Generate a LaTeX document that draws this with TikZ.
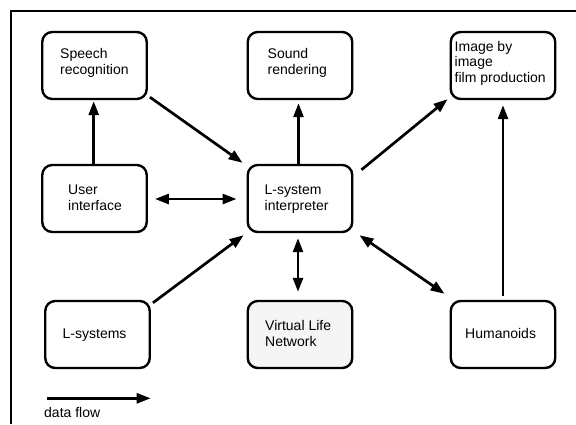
\documentclass[tikz,border=0pt]{standalone}
\usepackage{fontspec}
\setmainfont{Liberation Sans}
\usetikzlibrary{arrows.meta}
\begin{document}
\begin{tikzpicture}[x=1pt,y=-1pt,
  box/.style={draw, line width=2.4pt, rounded corners=10pt, minimum width=104.5pt, minimum height=67pt, inner sep=0pt},
  lbl/.style={anchor=base west, align=left, font=\fontsize{14}{16}\selectfont, inner sep=0pt},
  flow/.style={line width=2.7pt, -{Triangle[length=14pt,width=10pt]}},
  both/.style={line width=2.7pt, {Triangle[length=14pt,width=10pt]}-{Triangle[length=14pt,width=10pt]}}]
\useasboundingbox (0,0) rectangle (576,424);
\draw[line width=2pt] (10.5,424) -- (10.5,10.5) -- (576,10.5);

\node[box] (speech) at (94.5,65.5) {};
\node[box] (sound)  at (300,65.5) {};
\node[box] (image)  at (503,65.5) {};
\node[box] (user)   at (94.5,198.5) {};
\node[box] (interp) at (300,198.5) {};
\node[box] (lsys)   at (97.5,334.5) {};
\node[box, fill={rgb,255:red,245;green,245;blue,245}] (vln) at (300,334.5) {};
\node[box] (hum)    at (503,334.5) {};

% base anchor of a multi-line label is the baseline of its last line
\node[lbl] (tspeech) at (60,74) {Speech\\recognition};
\node[lbl] (tsound) at (267.5,74) {Sound\\rendering};
\node[lbl, font=\fontsize{14}{15.5}\selectfont] (timage) at (454.5,82) {Image by\\image\\film production};
\node[lbl] (tuser) at (68,210.5) {User\\interface};
\node[lbl] (tinterp) at (264.5,210.5) {L-system\\interpreter};
\node[lbl] (tlsys) at (62.5,338) {L-systems};
\node[lbl] (tvln) at (265,346) {Virtual Life\\Network};
\node[lbl] (thum) at (465,338) {Humanoids};
\node[lbl] (tdf) at (44,417) {data flow};

\draw[flow] ([shift={(2,-3)}]speech.south east) -- ([shift={(-4,-1)}]interp.north west);
\draw[flow] ([shift={(-0.8,0)}]user.north) -- ([shift={(-0.8,1)}]speech.south);
\draw[flow] ([shift={(-1.5,0)}]interp.north) -- ([shift={(-1.5,3)}]sound.south);
\draw[flow] ([shift={(8,6)}]interp.north east) -- ([shift={(-2,-1)}]image.south west);
\draw[both] ([shift={(7,0.5)}]user.east) -- ([shift={(-10,0.5)}]interp.west);
\draw[flow] ([shift={(2,3)}]lsys.north east) -- ([shift={(-3,2)}]interp.south west);
\draw[both] ([shift={(-2,5)}]interp.south) -- ([shift={(-2,-8)}]vln.north);
\draw[both] ([shift={(6,2)}]interp.south east) -- ([shift={(-5,-6)}]hum.north west);
\draw[flow] ([shift={(0,-4)}]hum.north) -- ([shift={(0,5)}]image.south);
\coordinate (df1) at (46.7,398.3);
\coordinate (df2) at (150.7,398.3);
\draw[flow] (df1) -- (df2);
\end{tikzpicture}
\end{document}
